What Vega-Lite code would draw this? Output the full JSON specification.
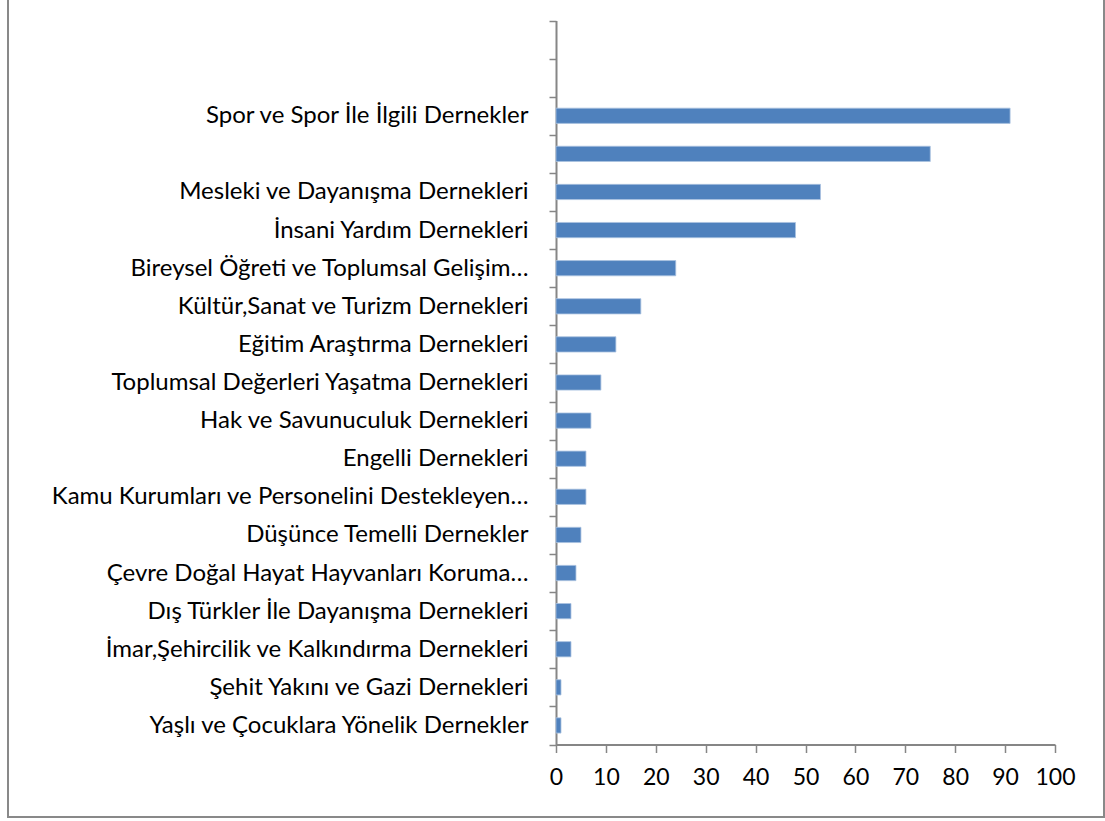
{
  "$schema": "https://vega.github.io/schema/vega-lite/v6.json",
  "autosize": "none",
  "width": 1096,
  "height": 827,
  "padding": {"left": 8, "right": 1, "top": -10, "bottom": 4},
  "background": "white",
  "config": {
    "view": {"stroke": "#898989", "strokeWidth": 2},
    "axis": {"labelFont": "Lato", "labelColor": "#000000", "domainColor": "#868686", "tickColor": "#868686", "domainWidth": 2, "tickWidth": 1.5, "grid": false, "title": null}
  },
  "data": {
    "values": [
      {"kategori": "Spor ve Spor İle İlgili Dernekler", "sayi": 91},
      {"kategori": "   ", "sayi": 75},
      {"kategori": "Mesleki ve Dayanışma Dernekleri", "sayi": 53},
      {"kategori": "İnsani Yardım Dernekleri", "sayi": 48},
      {"kategori": "Bireysel Öğreti ve Toplumsal Gelişim…", "sayi": 24},
      {"kategori": "Kültür,Sanat ve Turizm Dernekleri", "sayi": 17},
      {"kategori": "Eğitim Araştırma Dernekleri", "sayi": 12},
      {"kategori": "Toplumsal Değerleri Yaşatma Dernekleri", "sayi": 9},
      {"kategori": "Hak ve Savunuculuk Dernekleri", "sayi": 7},
      {"kategori": "Engelli Dernekleri", "sayi": 6},
      {"kategori": "Kamu Kurumları ve Personelini Destekleyen…", "sayi": 6},
      {"kategori": "Düşünce Temelli Dernekler", "sayi": 5},
      {"kategori": "Çevre Doğal Hayat Hayvanları Koruma…", "sayi": 4},
      {"kategori": "Dış Türkler İle Dayanışma Dernekleri", "sayi": 3},
      {"kategori": "İmar,Şehircilik ve Kalkındırma Dernekleri", "sayi": 3},
      {"kategori": "Şehit Yakını ve Gazi Dernekleri", "sayi": 1},
      {"kategori": "Yaşlı ve Çocuklara Yönelik Dernekler", "sayi": 1}
    ]
  },
  "mark": {"type": "bar", "color": "#4F81BD", "stroke": "#a9c1e0", "strokeWidth": 0.8, "height": {"band": 0.4}},
  "encoding": {
    "y": {
      "field": "kategori",
      "type": "nominal",
      "scale": {
        "domain": [" ", "  ", "Spor ve Spor İle İlgili Dernekler", "   ", "Mesleki ve Dayanışma Dernekleri", "İnsani Yardım Dernekleri", "Bireysel Öğreti ve Toplumsal Gelişim…", "Kültür,Sanat ve Turizm Dernekleri", "Eğitim Araştırma Dernekleri", "Toplumsal Değerleri Yaşatma Dernekleri", "Hak ve Savunuculuk Dernekleri", "Engelli Dernekleri", "Kamu Kurumları ve Personelini Destekleyen…", "Düşünce Temelli Dernekler", "Çevre Doğal Hayat Hayvanları Koruma…", "Dış Türkler İle Dayanışma Dernekleri", "İmar,Şehircilik ve Kalkındırma Dernekleri", "Şehit Yakını ve Gazi Dernekleri", "Yaşlı ve Çocuklara Yönelik Dernekler"],
        "range": [30.5, 754.5],
        "paddingInner": 0,
        "paddingOuter": 0
      },
      "axis": {
        "orient": "left",
        "offset": -548,
        "tickBand": "extent",
        "tickSize": 7,
        "labelPadding": 21,
        "labelFontSize": 24,
        "labelLimit": 700
      }
    },
    "x": {
      "field": "sayi",
      "type": "quantitative",
      "scale": {"domain": [0, 100], "range": [548, 1047], "nice": false, "zero": true},
      "axis": {
        "orient": "bottom",
        "offset": -72.5,
        "values": [0, 10, 20, 30, 40, 50, 60, 70, 80, 90, 100],
        "tickSize": 8,
        "labelPadding": 14,
        "labelFontSize": 23,
        "labelFlush": false
      }
    }
  }
}
